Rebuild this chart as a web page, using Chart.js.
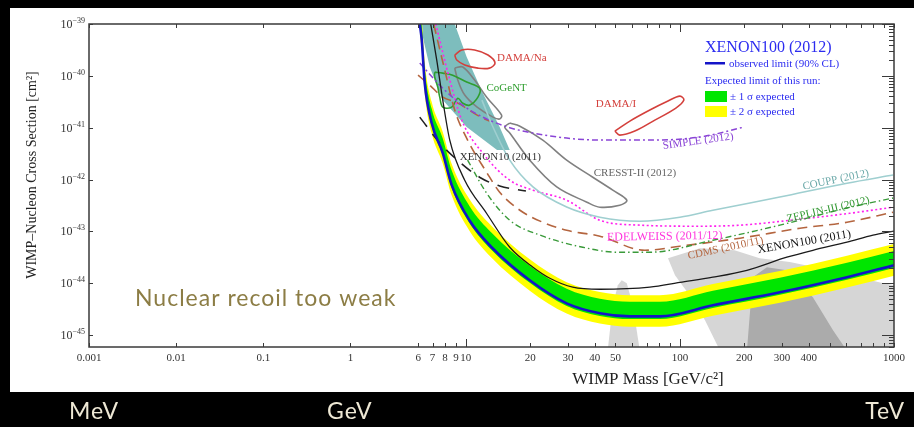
<!DOCTYPE html>
<html lang="en">
<head>
<meta charset="UTF-8">
<title>XENON100 (2012) WIMP limit</title>
<script src="https://cdn.jsdelivr.net/npm/chart.js"></script>
<style>
  html, body { margin: 0; padding: 0; background: #000; }
  #wrap { width: 914px; height: 427px; }
</style>
</head>
<body>
<div id="wrap"><canvas id="limitChart" width="914" height="427"></canvas></div>
<script>
// ---- axes ----
const xTickMass = [0.001, 0.01, 0.1, 1, 6, 7, 8, 9, 10, 20, 30, 40, 50, 100, 200, 300, 400, 1000];
const xTickText = ['0.001', '0.01', '0.1', '1', '6', '7', '8', '9', '10', '20', '30', '40', '50', '100', '200', '300', '400', '1000'];
const xMinorMass = [60, 70, 80, 90, 500, 600, 700, 800, 900];
const xLongMass = [10, 100];
const yTickExp = [-45, -44, -43, -42, -41, -40, -39];

// ---- XENON100 (2012): observed limit and expected bands (GeV, cm^2) ----
const obsMass  = [6.1, 6.23, 6.43, 6.93, 7.81, 8.6, 10.4, 13.2, 19.9, 29.6, 42.3, 58.4, 80.6, 142.6, 293, 603, 1000];
const obsSigma = [1e-39, 4.9e-40, 7.3e-41, 1.23e-41, 3.24e-42, 7.8e-43, 1.64e-43, 4.95e-44, 1.14e-44, 4.1e-45, 2.64e-45, 2.3e-45, 2.3e-45, 3.76e-45, 6.7e-45, 1.31e-44, 2.22e-44];
const exp2Hi = [2.6e-39, 1.26e-39, 1.88e-40, 3.16e-41, 8.3e-42, 2.0e-42, 4.2e-43, 1.27e-43, 2.9e-44, 1.05e-44, 6.8e-45, 5.9e-45, 5.9e-45, 9.7e-45, 1.72e-44, 3.4e-44, 5.7e-44];
const exp1Hi = [1.9e-39, 9.3e-40, 1.39e-40, 2.34e-41, 6.2e-42, 1.49e-42, 3.1e-43, 9.4e-44, 2.17e-44, 7.8e-45, 5.0e-45, 4.4e-45, 4.4e-45, 7.2e-45, 1.28e-44, 2.5e-44, 4.2e-44];
const exp1Lo = [8.9e-40, 4.4e-40, 6.5e-41, 1.1e-41, 2.9e-42, 6.9e-43, 1.46e-43, 4.4e-44, 1.02e-44, 3.65e-45, 2.35e-45, 2.05e-45, 2.05e-45, 3.35e-45, 6.0e-45, 1.17e-44, 1.98e-44];
const exp2Lo = [6.3e-40, 3.1e-40, 4.6e-41, 7.8e-42, 2.04e-42, 4.9e-43, 1.03e-43, 3.1e-44, 7.2e-45, 2.6e-45, 1.67e-45, 1.45e-45, 1.45e-45, 2.37e-45, 4.2e-45, 8.3e-45, 1.4e-44];

// ---- other limits ----
const x11Mass  = [6.86, 7.32, 7.81, 8.42, 9.89, 12.5, 16.05, 20.6, 24.7, 31.6, 42.3, 72.4, 100, 142.6, 205.6, 316, 418, 603, 798, 1000];
const x11Sigma = [1e-39, 2.02e-40, 3.41e-41, 5.77e-42, 9.7e-43, 2.24e-43, 4.95e-44, 2.04e-44, 1.25e-44, 8.4e-45, 7.66e-45, 8.4e-45, 1.04e-44, 1.31e-44, 1.78e-44, 3.18e-44, 4.33e-44, 6.2e-44, 8.45e-44, 1.01e-43];
const x10Mass  = [6.1, 7.56, 9.37, 11.6, 14.4, 19.1];
const x10Sigma = [1.6e-41, 5.05e-42, 2.17e-42, 1.11e-42, 7.5e-43, 6.0e-43];
const cdmsMass  = [7.08, 7.98, 8.88, 10.2, 12.5, 14.4, 17.9, 22.9, 29.6, 42.3, 68.6, 100, 191, 364, 603, 990];
const cdmsSigma = [1e-39, 1.29e-40, 2.19e-41, 5.77e-42, 1.39e-42, 5.7e-43, 2.56e-43, 1.5e-43, 1.05e-43, 8.1e-44, 4.33e-44, 5.18e-44, 7.4e-44, 1.15e-43, 1.5e-43, 2.35e-43];
const cdmsLtMass  = [5.97, 6.79, 7.81, 9.18, 11.3, 12.9];
const cdmsLtSigma = [1.03e-40, 6.6e-41, 3.9e-41, 2.98e-41, 1.75e-41, 1.34e-41];
const edwMass  = [7.24, 8.42, 9.58, 12.0, 16.05, 20.6, 29.6, 42.3, 65.0, 124, 191, 364, 623, 990];
const edwSigma = [1e-39, 8.3e-41, 1.4e-41, 3.24e-42, 9.7e-43, 6.24e-43, 4.0e-43, 1.64e-43, 1.32e-43, 1.26e-43, 1.32e-43, 1.72e-43, 2.24e-43, 2.93e-43];
const zepMass  = [10.2, 12.5, 16.05, 22.9, 35.2, 50.8, 72.4, 142.6, 293, 603, 990];
const zepSigma = [2.37e-42, 5.5e-43, 1.64e-43, 8.1e-44, 4.95e-44, 3.97e-44, 3.97e-44, 6.76e-44, 1.32e-43, 2.83e-43, 4.4e-43];
const couppMass  = [11.9, 13.4, 16.05, 20.6, 29.6, 42.3, 65.0, 100, 142.6, 293, 603, 990];
const couppSigma = [3.41e-41, 1.03e-41, 2.37e-42, 7.2e-43, 2.95e-43, 1.88e-43, 1.57e-43, 1.88e-43, 2.56e-43, 4.6e-43, 8.5e-43, 1.22e-42];
const simpleMass  = [6.1, 7.56, 9.37, 12.0, 16.05, 20.6, 29.6, 42.3, 72.4, 124, 200];
const simpleSigma = [1.77e-40, 6.6e-41, 2.98e-41, 1.6e-41, 1.0e-41, 7.9e-42, 6.3e-42, 5.77e-42, 5.77e-42, 6.6e-42, 1.03e-41];

// ---- closed contours and regions, [mass, sigma] ----
const damaNa = [[8.88, 2.52e-40], [9.58, 3.15e-40], [11.0, 3.15e-40], [12.7, 2.52e-40], [13.7, 1.77e-40], [12.9, 1.41e-40], [11.4, 1.41e-40], [9.89, 1.62e-40], [9.08, 2.02e-40], [8.88, 2.52e-40]];
const damaI = [[49.7, 8.6e-42], [58.4, 1.34e-41], [72.4, 2.19e-41], [88, 3.27e-41], [100, 4.07e-41], [104.4, 3.41e-41], [95.8, 2.39e-41], [76.4, 1.4e-41], [61.6, 8.6e-42], [52.4, 7.2e-42], [49.7, 8.6e-42]];
const cogent = [[7.16, 1.18e-40], [7.81, 1.13e-40], [8.69, 1.03e-40], [10.1, 7.6e-41], [11.6, 5.8e-41], [11.4, 3.9e-41], [10.4, 2.72e-41], [9.68, 2.98e-41], [9.18, 3.7e-41], [8.6, 2.49e-41], [7.81, 2.49e-41], [7.56, 3.9e-41], [7.4, 6.1e-41], [7.16, 9.5e-41], [7.16, 1.18e-40]];
const cresstA = [[8.88, 1.41e-40], [9.68, 1.48e-40], [11.0, 8.3e-41], [12.5, 3.9e-41], [14.7, 1.75e-41], [14.4, 1.47e-41], [13.4, 1.6e-41], [11.3, 2.49e-41], [9.89, 4.26e-41], [9.18, 8.3e-41], [8.88, 1.41e-40]];
const cresstB = [[16.05, 1.23e-41], [17.9, 1.07e-41], [22.9, 5.77e-42], [29.6, 2.37e-42], [39.2, 1.11e-42], [48.6, 6.24e-43], [56.5, 4.0e-43], [52.4, 3.2e-43], [42.3, 2.93e-43], [36.8, 3.66e-43], [26.6, 7.2e-43], [19.9, 2.37e-42], [16.05, 7.9e-42], [15.2, 1.03e-41], [16.05, 1.23e-41]];
const tealRegion = [[8.88, 1e-39], [10.1, 2.3e-40], [12.0, 4.65e-41], [14.4, 1.03e-41], [16.05, 3.7e-42], [14.0, 3.7e-42], [10.1, 1.03e-41], [7.81, 3.41e-41], [6.79, 1.48e-40], [6.1, 1e-39], [8.88, 1e-39]];
const susyBump = [[46.0, 5e-46], [48.6, 3.76e-45], [51.3, 9.2e-45], [53.5, 1.14e-44], [56.5, 1.0e-44], [60.3, 3.76e-45], [65.0, 5e-46], [46.0, 5e-46]];
const susyWide = [[88, 3.05e-44], [124, 4.74e-44], [180, 4.33e-44], [236, 3.05e-44], [326, 2.56e-44], [451, 1.95e-44], [623, 1.43e-44], [861, 1.04e-44], [1000, 9.2e-45], [1000, 5e-46], [154, 5e-46], [131, 1.93e-45], [111, 5.9e-45], [94.9, 1.43e-44], [88, 3.05e-44]];
const susyCore = [[205.6, 5e-46], [219, 1.31e-44], [255, 2.04e-44], [316, 1.78e-44], [418, 5.37e-45], [519, 1.24e-45], [603, 5e-46], [205.6, 5e-46]];

// curve labels, anchored in data units
const curveLabels = [
  { text: 'DAMA/Na', m: 14.0, s: 2.2e-40, rot: 0, color: '#d4403c', size: 11 },
  { text: 'CoGeNT', m: 12.5, s: 5.8e-41, rot: 0, color: '#2f9e2f', size: 11 },
  { text: 'DAMA/I', m: 40.5, s: 2.86e-41, rot: 0, color: '#d4403c', size: 11 },
  { text: 'SIMPLE (2012)', m: 83.3, s: 4.4e-42, rot: -8, color: '#8a44d6', size: 11 },
  { text: 'XENON10 (2011)', m: 9.37, s: 2.7e-42, rot: 0, color: '#333333', size: 11 },
  { text: 'CRESST-II (2012)', m: 39.6, s: 1.33e-42, rot: 0, color: '#666666', size: 11 },
  { text: 'COUPP (2012)', m: 375, s: 7.2e-43, rot: -12, color: '#6aa8a8', size: 11 },
  { text: 'ZEPLIN-III (2012)', m: 316, s: 1.72e-43, rot: -13, color: '#2e962e', size: 11 },
  { text: 'EDELWEISS (2011/12)', m: 45.6, s: 7.6e-44, rot: -1, color: '#ff33dd', size: 12 },
  { text: 'CDMS (2010/11)', m: 109, s: 3.32e-44, rot: -12, color: '#b4653f', size: 11 },
  { text: 'XENON100 (2011)', m: 231, s: 4.33e-44, rot: -10, color: '#111111', size: 12 }
];

// below 6 GeV the plot is a squeezed log axis glued onto the normal one
const BREAK_MASS = 6;
const LOW_SQUEEZE = 0.407;

function massToU(m) {
  const l = Math.log10(m), b = Math.log10(BREAK_MASS);
  return l >= b ? l : b + (l - b) * LOW_SQUEEZE;
}
function toPts(mass, sigma) {
  return mass.map((m, i) => ({ x: massToU(m), y: sigma[i] }));
}
function pairPts(pairs) {
  return pairs.map(p => ({ x: massToU(p[0]), y: p[1] }));
}

function limitLine(data, color, width, dash, order) {
  return { data: data, borderColor: color, borderWidth: width, borderDash: dash, fill: false,
           cubicInterpolationMode: 'monotone', order: order };
}
function region(data, color, order) {
  return { data: data, backgroundColor: color, borderWidth: 0, fill: 'shape', order: order };
}
function contour(data, color, order) {
  return { data: data, borderColor: color, borderWidth: 1.6, fill: false, tension: 0.35, order: order };
}

const datasets = [
  region(pairPts(susyWide), '#d6d6d6', 40),
  region(pairPts(susyCore), '#ababab', 39),
  region(pairPts(susyBump), '#d6d6d6', 39),
  region(pairPts(tealRegion), '#7dbdbd', 35),
  // yellow band: 2 sigma hi filled down to 2 sigma lo (next dataset)
  { data: toPts(obsMass, exp2Hi), borderWidth: 0, backgroundColor: '#ffff00', fill: '+1', cubicInterpolationMode: 'monotone', order: 30 },
  { data: toPts(obsMass, exp2Lo), borderWidth: 0, fill: false, cubicInterpolationMode: 'monotone', order: 30 },
  { data: toPts(obsMass, exp1Hi), borderWidth: 0, backgroundColor: '#00e600', fill: '+1', cubicInterpolationMode: 'monotone', order: 29 },
  { data: toPts(obsMass, exp1Lo), borderWidth: 0, fill: false, cubicInterpolationMode: 'monotone', order: 29 },
  contour(pairPts(damaNa), '#d4403c', 10),
  contour(pairPts(damaI), '#d4403c', 10),
  contour(pairPts(cogent), '#2f9e2f', 10),
  contour(pairPts(cresstA), '#808080', 10),
  contour(pairPts(cresstB), '#808080', 10),
  limitLine(toPts(simpleMass, simpleSigma), '#8a44d6', 1.5, [6, 3, 2, 3], 8),
  limitLine(toPts(couppMass, couppSigma), '#9fcfd0', 1.6, [], 8),
  limitLine(toPts(zepMass, zepSigma), '#3a9a3a', 1.4, [6, 3, 1.5, 3], 8),
  limitLine(toPts(edwMass, edwSigma), '#ff22ee', 1.6, [2, 2.5], 8),
  limitLine(toPts(cdmsMass, cdmsSigma), '#b4653f', 1.6, [10, 6], 8),
  limitLine(toPts(cdmsLtMass, cdmsLtSigma), '#b4653f', 1.6, [10, 6], 8),
  limitLine(toPts(x10Mass, x10Sigma), '#222222', 1.6, [12, 9], 6),
  limitLine(toPts(x11Mass, x11Sigma), '#1a1a1a', 1.3, [], 5),
  limitLine(toPts(obsMass, obsSigma), '#1414c8', 2.6, [], 0)
];

const decor = {
  id: 'decor',
  beforeDraw(chart) {
    const { ctx, width, height } = chart;
    ctx.save();
    ctx.fillStyle = '#000';
    ctx.fillRect(0, 0, width, height);
    ctx.fillStyle = '#fff';
    ctx.fillRect(10, 8, width - 10, 384);
    ctx.restore();
  },
  afterDatasetsDraw(chart) {
    const { ctx, chartArea: a } = chart;
    const xs = chart.scales.x, ys = chart.scales.y;
    ctx.save();

    // frame
    ctx.strokeStyle = '#3a3a3a';
    ctx.lineWidth = 1.5;
    ctx.strokeRect(a.left, a.top, a.right - a.left, a.bottom - a.top);

    // inward tick marks
    ctx.lineWidth = 1;
    ctx.beginPath();
    xTickMass.concat(xMinorMass).forEach(m => {
      const px = Math.round(xs.getPixelForValue(massToU(m))) + 0.5;
      const len = xLongMass.includes(m) ? 8 : 4;
      ctx.moveTo(px, a.bottom); ctx.lineTo(px, a.bottom - len);
      ctx.moveTo(px, a.top); ctx.lineTo(px, a.top + len);
    });
    yTickExp.forEach(e => {
      const py = Math.round(ys.getPixelForValue(Math.pow(10, e))) + 0.5;
      ctx.moveTo(a.left, py); ctx.lineTo(a.left + 4, py);
      ctx.moveTo(a.right, py); ctx.lineTo(a.right - 12, py);
      for (let k = 2; k < 10; k++) {
        const v = k * Math.pow(10, e - 1);
        if (v < ys.min) continue;
        const q = Math.round(ys.getPixelForValue(v)) + 0.5;
        ctx.moveTo(a.right, q); ctx.lineTo(a.right - 5, q);
      }
    });
    ctx.stroke();

    // y tick labels as 10 with a raised exponent
    ctx.fillStyle = '#333';
    ctx.textBaseline = 'alphabetic';
    ctx.textAlign = 'left';
    yTickExp.forEach(e => {
      const py = ys.getPixelForValue(Math.pow(10, e));
      const exp = '\u2212' + Math.abs(e);
      ctx.font = '8px "Liberation Serif"';
      const we = ctx.measureText(exp).width;
      ctx.font = '12px "Liberation Serif"';
      const wb = ctx.measureText('10').width;
      const x0 = a.left - 4 - we - wb;
      ctx.fillText('10', x0, py + 4);
      ctx.font = '8px "Liberation Serif"';
      ctx.fillText(exp, x0 + wb, py - 1);
    });

    // curve labels
    curveLabels.forEach(l => {
      ctx.save();
      ctx.translate(xs.getPixelForValue(massToU(l.m)), ys.getPixelForValue(l.s));
      ctx.rotate(l.rot * Math.PI / 180);
      ctx.fillStyle = l.color;
      ctx.font = l.size + 'px "Liberation Serif"';
      ctx.textBaseline = 'middle';
      ctx.fillText(l.text, 0, 0);
      ctx.restore();
    });

    // legend
    ctx.textBaseline = 'alphabetic';
    ctx.textAlign = 'left';
    ctx.fillStyle = '#2b2bf0';
    ctx.font = '16px "Liberation Serif"';
    ctx.fillText('XENON100 (2012)', 705, 52);
    ctx.font = '11px "Liberation Serif"';
    ctx.fillText('observed limit (90% CL)', 729, 67);
    ctx.fillText('Expected limit of this run:', 705, 84);
    ctx.fillText('\u00B1 1 \u03C3 expected', 730, 100);
    ctx.fillText('\u00B1 2 \u03C3 expected', 730, 115);
    ctx.fillStyle = '#1414c8';
    ctx.fillRect(705, 62, 20, 2.5);
    ctx.fillStyle = '#00e600';
    ctx.fillRect(705, 91, 22, 11);
    ctx.fillStyle = '#ffff00';
    ctx.fillRect(705, 106, 22, 11);

    // axis titles
    ctx.fillStyle = '#222';
    ctx.textAlign = 'center';
    ctx.font = '17px "Liberation Serif"';
    ctx.fillText('WIMP Mass [GeV/c\u00B2]', 648, 384);
    ctx.save();
    ctx.translate(36, 175);
    ctx.rotate(-Math.PI / 2);
    ctx.font = '14px "Liberation Serif"';
    ctx.fillText('WIMP\u2013Nucleon Cross Section [cm\u00B2]', 0, 0);
    ctx.restore();

    // slide annotations
    ctx.textAlign = 'left';
    ctx.letterSpacing = '1px';
    ctx.fillStyle = '#8c7d45';
    ctx.font = '23px Lato';
    ctx.fillText('Nuclear recoil too weak', 135, 306);
    ctx.fillStyle = '#eee8d5';
    ctx.fillText('MeV', 69, 419);
    ctx.fillText('GeV', 327, 419);
    ctx.textAlign = 'right';
    ctx.fillText('TeV', 905, 419);
    ctx.restore();
  }
};

new Chart(document.getElementById('limitChart'), {
  type: 'line',
  data: { datasets: datasets },
  options: {
    responsive: false,
    animation: false,
    layout: { padding: { left: 10, right: 20, top: 24, bottom: 60 } },
    elements: { point: { radius: 0 } },
    plugins: { legend: { display: false }, tooltip: { enabled: false } },
    scales: {
      x: {
        type: 'linear',
        min: massToU(0.001),
        max: 3,
        afterBuildTicks: s => { s.ticks = xTickMass.map(m => ({ value: massToU(m) })); },
        afterFit: s => { s.height = 20; },
        grid: { display: false, drawTicks: false },
        border: { display: false },
        ticks: {
          autoSkip: false, maxRotation: 0, minRotation: 0, padding: 5,
          color: '#333', font: { family: 'Liberation Serif', size: 11 },
          callback: (v, i) => xTickText[i]
        }
      },
      y: {
        type: 'logarithmic',
        min: 5.9e-46,
        max: 1e-39,
        afterBuildTicks: s => { s.ticks = yTickExp.map(e => ({ value: Math.pow(10, e) })); },
        afterFit: s => { s.width = 79; },
        grid: { display: false, drawTicks: false },
        border: { display: false },
        ticks: { display: false }
      }
    }
  },
  plugins: [decor]
});
</script>
</body>
</html>
